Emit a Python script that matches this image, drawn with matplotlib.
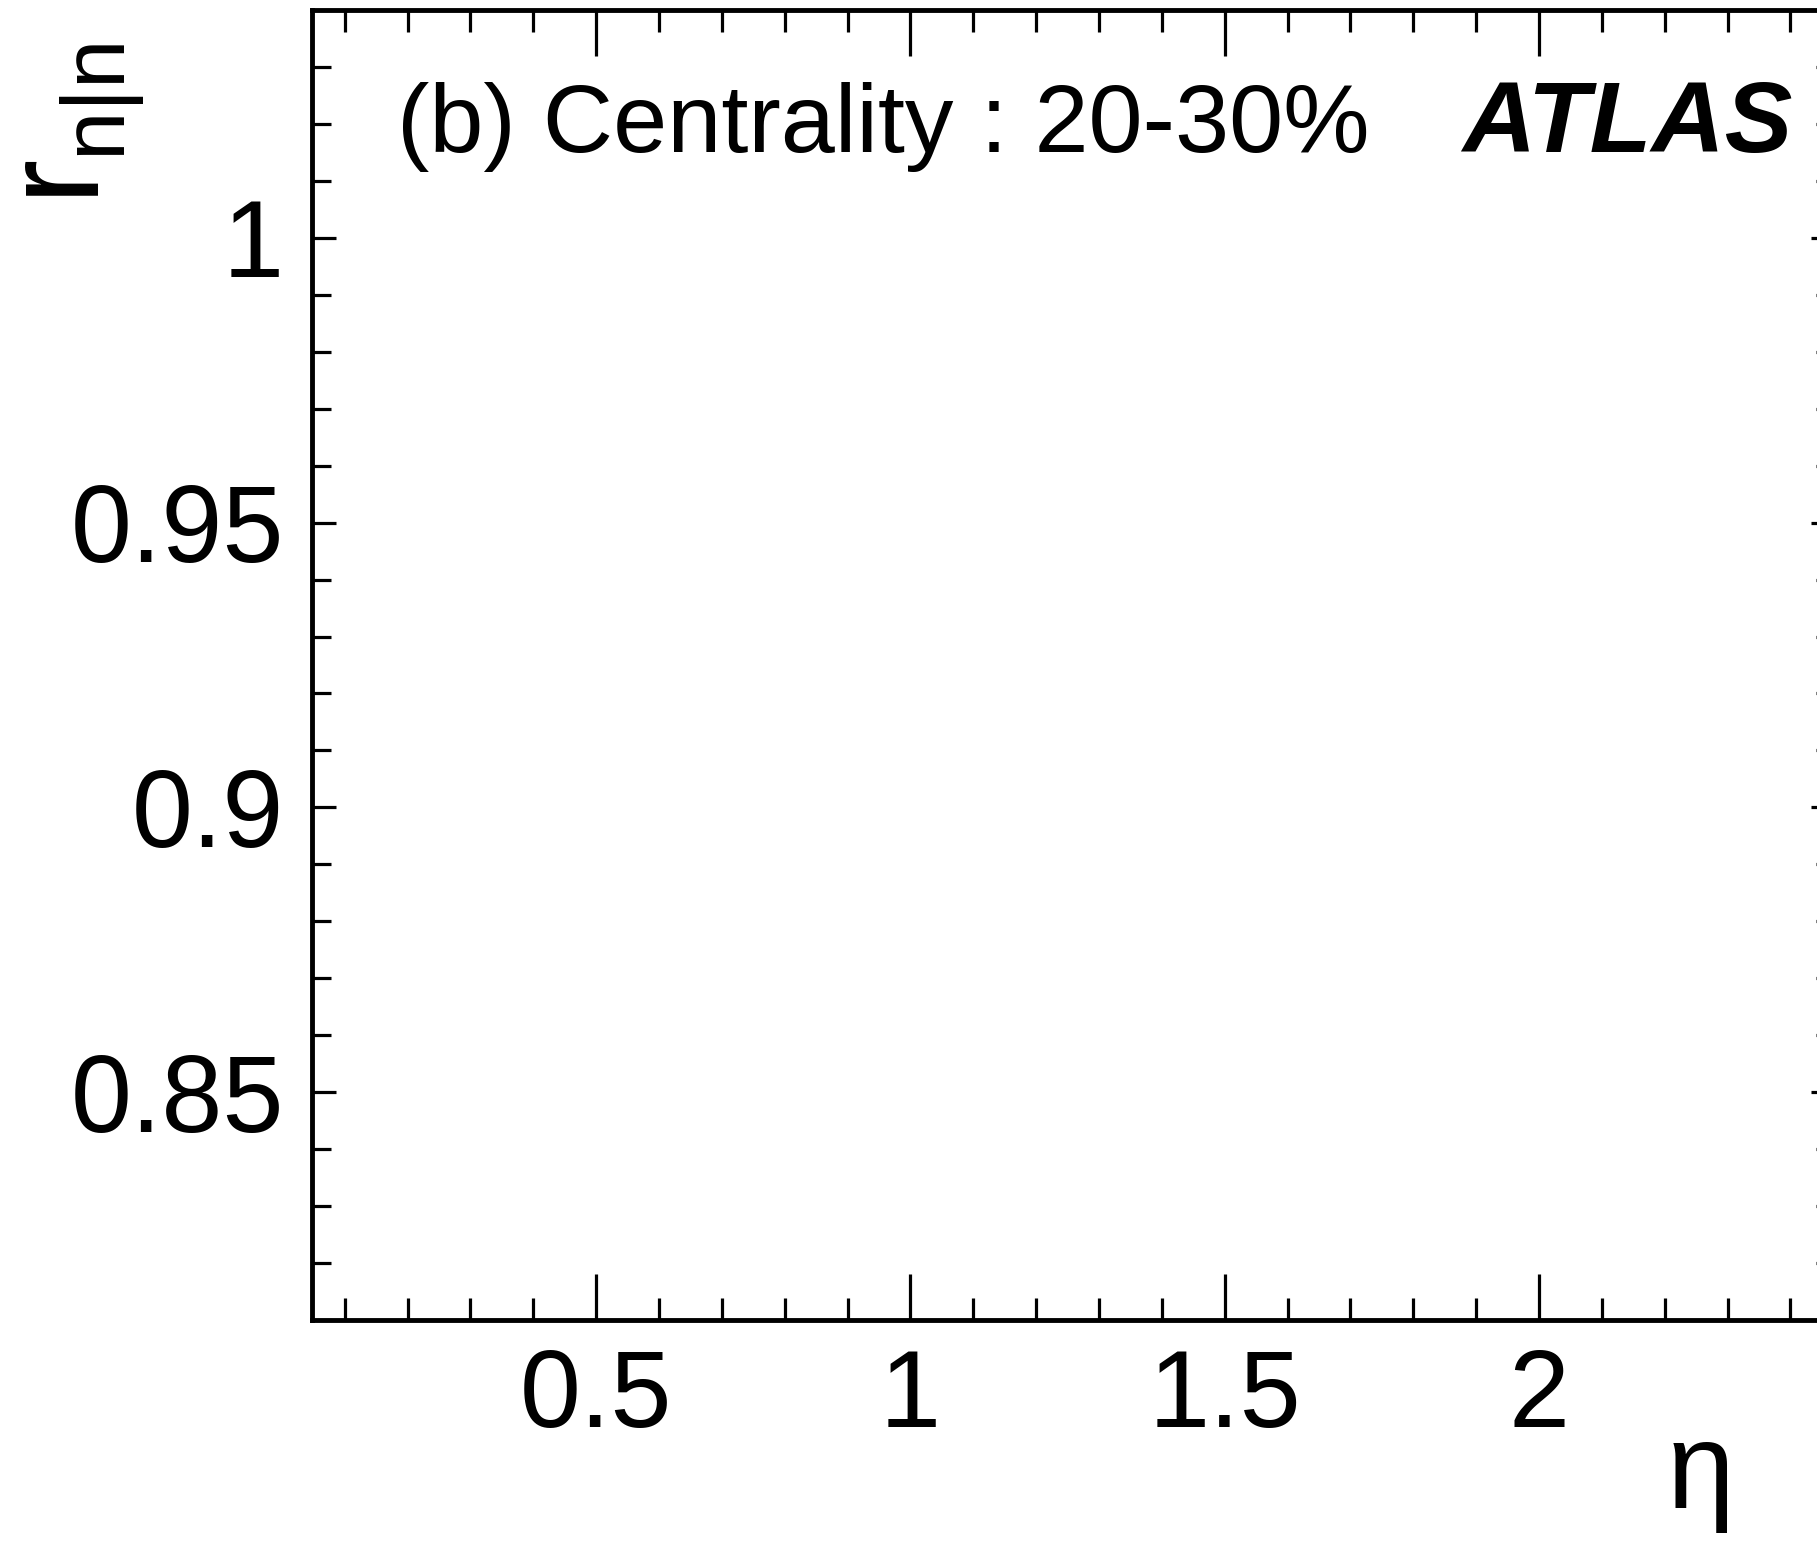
import matplotlib
matplotlib.use('Agg')
import matplotlib.pyplot as plt
from matplotlib.ticker import MultipleLocator

plt.rcParams['font.family'] = ['Liberation Sans', 'DejaVu Sans']
plt.rcParams['mathtext.fontset'] = 'custom'
plt.rcParams['mathtext.rm'] = 'Liberation Sans'

# axis ranges and ticks (panel has no data points)
x_range = [0.048, 2.471]
y_range = [0.81, 1.04]
x_major = 0.5
x_minor = 0.1
y_major = 0.05
y_minor = 0.01
panel_label = '(b) Centrality : 20-30%'
experiment = 'ATLAS'
x_title = '\u03b7'
y_title = r'$\mathregular{r}$'
y_title_sub = r'$\mathregular{n|n}$'

W, H = 1817, 1542
fig = plt.figure(figsize=(W / 100, H / 100), dpi=100)
ax = fig.add_axes([312 / W, 1 - 1320 / H, (1835 - 312) / W, (1320 - 10) / H])
ax.set_xlim(x_range)
ax.set_ylim(y_range)

ax.xaxis.set_major_locator(MultipleLocator(x_major))
ax.xaxis.set_minor_locator(MultipleLocator(x_minor))
ax.yaxis.set_major_locator(MultipleLocator(y_major))
ax.yaxis.set_minor_locator(MultipleLocator(y_minor))
ax.xaxis.set_major_formatter(plt.FuncFormatter(lambda v, p: f'{v:g}'))
ax.yaxis.set_major_formatter(plt.FuncFormatter(lambda v, p: f'{v:g}'))

for s in ax.spines.values():
    s.set_linewidth(3.5)
ax.tick_params(axis='both', which='both', direction='in', top=True, right=True, width=2.3)
ax.tick_params(axis='x', which='major', length=33, pad=20, labelsize=79)
ax.tick_params(axis='x', which='minor', length=16)
ax.tick_params(axis='y', which='major', length=17, pad=20, labelsize=79)
ax.tick_params(axis='y', which='minor', length=13.5)

fig.text(397 / W, 1 - 152 / H, panel_label, fontsize=70, ha='left', va='baseline')
fig.text(1792 / W, 1 - 152 / H, experiment, fontsize=73, ha='right', va='baseline',
         fontweight='bold', fontstyle='italic')
fig.text(1701 / W, 1 - 1508 / H, x_title, fontsize=88, ha='center', va='baseline')

# y title r_{n|n}, drawn as main letter plus subscript
fig.text(1 / W, 1 - 205 / H, y_title, fontsize=98, rotation=90,
         ha='left', va='bottom')
fig.text(146 / W, 1 - 43 / H, y_title_sub, fontsize=64, rotation=90,
         ha='right', va='top')

fig.savefig('out.png', dpi=100)
